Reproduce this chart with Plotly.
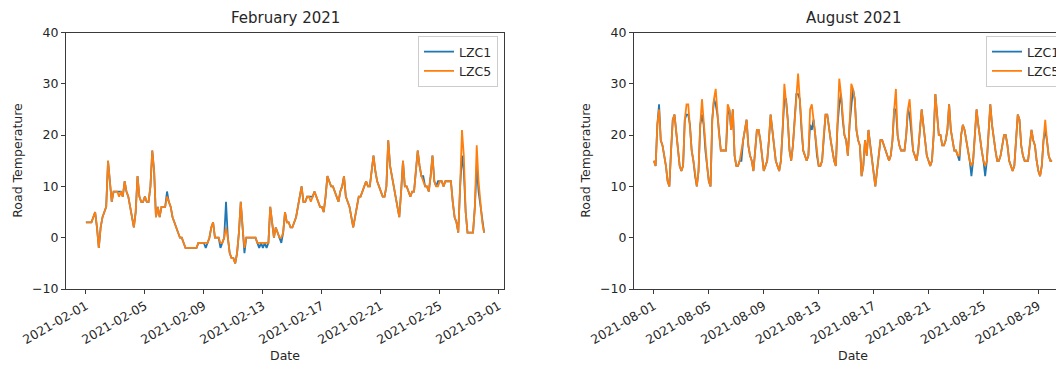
import pandas as pd
import plotly.graph_objects as go

# ---------------- data (3-hourly readings, degrees C) ----------------
feb_start = "2021-02-01"
aug_start = "2021-08-01"
step = "3h"

feb_lzc5 = [
    3, 3, 3, 3, 4, 5, 2, -2,
    2, 4, 5, 6, 15, 10, 7, 9,
    9, 9, 8, 9, 8, 11, 9, 8,
    6, 4, 2, 5, 12, 8, 7, 7,
    8, 7, 7, 10, 17, 13, 4, 6,
    4, 6, 6, 6, 8, 7, 6, 4,
    3, 2, 1, 0, 0, -1, -2, -2,
    -2, -2, -2, -2, -2, -1, -1, -1,
    -1, -1, -1, 0, 2, 3, 0, 0,
    0, -1, -1, 0, 2, 0, -3, -4,
    -4, -5, -3, 1, 7, 2, -2, 0,
    0, 0, 0, 0, 0, -1, -1, -1,
    -1, -1, -1, -1, 6, 3, 0, 2,
    1, 0, 0, 1, 5, 3, 3, 2,
    2, 3, 4, 6, 8, 10, 7, 7,
    8, 8, 7, 8, 9, 8, 7, 6,
    6, 5, 8, 12, 11, 10, 10, 9,
    8, 7, 9, 10, 12, 8, 7, 6,
    4, 2, 4, 6, 8, 8, 9, 10,
    11, 10, 10, 13, 16, 13, 11, 10,
    9, 8, 8, 10, 19, 14, 12, 10,
    8, 6, 4, 9, 15, 10, 10, 9,
    8, 9, 9, 13, 17, 14, 12, 11,
    10, 10, 9, 12, 16, 11, 10, 10,
    11, 11, 10, 11, 11, 11, 11, 7,
    4, 3, 1, 10, 21, 16, 5, 1,
    1, 1, 1, 6, 18, 11, 6, 3,
    1,
]

feb_lzc1 = [
    3, 3, 3, 3, 4, 5, 2, -2,
    2, 4, 5, 6, 15, 10, 7, 9,
    9, 9, 9, 9, 8, 11, 9, 8,
    6, 4, 2, 5, 12, 8, 7, 7,
    8, 7, 7, 10, 17, 13, 4, 6,
    4, 6, 6, 6, 9, 7, 6, 4,
    3, 2, 1, 0, 0, -1, -2, -2,
    -2, -2, -2, -2, -2, -1, -1, -1,
    -1, -2, -1, 0, 2, 3, 0, 0,
    0, -2, -1, 0, 7, 0, -3, -4,
    -4, -5, -3, 1, 7, 2, -3, 0,
    0, 0, 0, 0, 0, -1, -2, -1,
    -2, -1, -2, -1, 6, 3, 0, 2,
    1, 0, -1, 1, 5, 3, 3, 2,
    2, 3, 4, 6, 8, 10, 7, 7,
    8, 8, 8, 8, 9, 8, 7, 6,
    6, 5, 8, 12, 11, 10, 10, 9,
    8, 7, 9, 10, 12, 8, 7, 6,
    4, 2, 4, 6, 8, 8, 9, 10,
    11, 10, 10, 13, 16, 13, 11, 10,
    9, 8, 8, 10, 19, 14, 12, 10,
    8, 6, 4, 9, 15, 10, 10, 9,
    8, 9, 9, 13, 17, 14, 12, 12,
    10, 10, 9, 12, 16, 11, 10, 11,
    11, 11, 10, 11, 11, 11, 11, 7,
    4, 3, 1, 10, 16, 13, 5, 1,
    1, 1, 1, 6, 14, 9, 6, 3,
    1,
]

aug_lzc5 = [
    15, 14, 22, 25, 19, 18, 16, 14,
    11, 10, 17, 23, 24, 21, 17, 14,
    13, 14, 23, 26, 26, 22, 17, 15,
    12, 10, 13, 22, 27, 22, 17, 14,
    11, 10, 23, 27, 29, 24, 20, 17,
    17, 17, 17, 26, 25, 21, 25, 16,
    14, 14, 15, 17, 19, 21, 23, 18,
    16, 15, 13, 17, 21, 21, 19, 16,
    13, 14, 15, 19, 24, 21, 18, 15,
    14, 13, 15, 21, 30, 27, 23, 17,
    15, 18, 23, 28, 32, 27, 21, 17,
    16, 15, 16, 25, 26, 23, 20, 16,
    14, 14, 15, 20, 24, 24, 21, 19,
    17, 15, 14, 22, 31, 28, 23, 20,
    19, 16, 22, 30, 29, 27, 21, 19,
    18, 12, 14, 19, 16, 21, 18, 15,
    12, 10, 13, 16, 19, 19, 18, 17,
    16, 15, 16, 19, 25, 29, 20, 18,
    17, 17, 17, 20, 25, 27, 21, 17,
    16, 15, 17, 21, 25, 22, 19, 16,
    15, 14, 15, 20, 28, 23, 20, 20,
    18, 18, 19, 21, 26, 21, 19, 17,
    17, 16, 16, 20, 22, 21, 19, 17,
    15, 14, 15, 20, 25, 22, 19, 17,
    15, 14, 15, 20, 26, 22, 19, 17,
    15, 15, 16, 18, 20, 20, 18, 15,
    14, 13, 14, 20, 24, 23, 18, 16,
    15, 15, 15, 18, 21, 19, 18, 15,
    13, 12, 14, 19, 23, 19, 16, 15,
    15,
]

aug_lzc1 = [
    15, 14, 22, 26, 19, 18, 16, 14,
    11, 10, 17, 23, 24, 21, 17, 14,
    13, 14, 23, 24, 24, 22, 17, 15,
    12, 10, 13, 22, 24, 22, 17, 14,
    11, 10, 23, 27, 26, 24, 20, 17,
    17, 17, 17, 24, 25, 21, 25, 16,
    14, 14, 15, 15, 19, 21, 23, 18,
    16, 15, 13, 17, 21, 21, 19, 16,
    13, 14, 15, 19, 24, 21, 18, 15,
    14, 13, 15, 21, 27, 27, 23, 17,
    15, 18, 23, 28, 28, 27, 21, 17,
    16, 15, 16, 22, 21, 23, 20, 16,
    14, 14, 15, 20, 24, 24, 21, 19,
    17, 15, 14, 22, 26, 28, 23, 20,
    19, 16, 22, 25, 29, 27, 21, 19,
    18, 12, 14, 19, 16, 21, 18, 15,
    12, 10, 13, 16, 19, 19, 18, 17,
    16, 15, 16, 19, 25, 25, 20, 18,
    17, 17, 17, 20, 25, 24, 21, 17,
    16, 15, 17, 21, 25, 22, 19, 16,
    15, 14, 15, 20, 28, 23, 20, 20,
    18, 18, 19, 21, 26, 21, 19, 17,
    17, 16, 15, 20, 22, 21, 19, 17,
    15, 12, 15, 20, 25, 22, 19, 17,
    15, 12, 15, 20, 26, 22, 19, 17,
    15, 15, 16, 18, 20, 20, 18, 15,
    14, 13, 14, 20, 24, 23, 18, 16,
    15, 15, 15, 18, 21, 19, 18, 15,
    13, 12, 14, 19, 21, 19, 16, 15,
    15,
]

series_names = ["LZC1", "LZC5"]
feb_ticks = ["2021-02-01", "2021-02-05", "2021-02-09", "2021-02-13",
             "2021-02-17", "2021-02-21", "2021-02-25", "2021-03-01"]
aug_ticks = ["2021-08-01", "2021-08-05", "2021-08-09", "2021-08-13",
             "2021-08-17", "2021-08-21", "2021-08-25", "2021-08-29"]
y_ticks = [-10, 0, 10, 20, 30, 40]

# ---------------- styling ----------------
# the page body has an 8px default margin; the figure is sized so that
# page coordinates = figure coordinates + OFF
OFF = 8
PW, PH = 1064, 365          # page (window) size
W, H = PW - OFF, PH - OFF   # figure size
BLUE, ORANGE = "#1f77b4", "#ff7f0e"
FONT = "DejaVu Sans"
AX = "#3a3a3a"
TXT = "#262626"

feb_time = pd.date_range(feb_start, periods=len(feb_lzc5), freq=step)
aug_time = pd.date_range(aug_start, periods=len(aug_lzc5), freq=step)


def padded_range(t, visible_frac=1.0):
    span = t[-1] - t[0]
    lo = t[0] - 0.05 * span
    full = 1.1 * span
    return [lo, lo + full * visible_frac]


def px(x):   # page x -> paper fraction
    return (x - OFF) / W


def py(y):   # page y (from top) -> paper fraction (from bottom)
    return (H - (y - OFF)) / H


fig = go.Figure()
for name, vals, col in [(series_names[0], feb_lzc1, BLUE), (series_names[1], feb_lzc5, ORANGE)]:
    fig.add_trace(go.Scatter(x=feb_time, y=vals, mode="lines", name=name,
                             line=dict(color=col, width=1.8),
                             xaxis="x", yaxis="y", legend="legend"))
for name, vals, col in [(series_names[0], aug_lzc1, BLUE), (series_names[1], aug_lzc5, ORANGE)]:
    fig.add_trace(go.Scatter(x=aug_time, y=vals, mode="lines", name=name,
                             line=dict(color=col, width=1.8),
                             xaxis="x2", yaxis="y2", legend="legend2"))

# axes geometry (page pixels)
L1, R1 = 66, 504
L2, R2full = 634, 1072
TOP, BOT = 32.5, 289

ydom = [py(BOT), py(TOP)]
common_x = dict(showline=True, linecolor=AX, linewidth=1, mirror=True,
                ticks="outside", ticklen=4, tickwidth=1, tickcolor=AX,
                showgrid=False, zeroline=False, tickangle=-30,
                tickformat="%Y-%m-%d",
                tickfont=dict(family=FONT, size=12.5, color=TXT))
common_y = dict(showline=True, linecolor=AX, linewidth=1,
                ticks="outside", ticklen=4, tickwidth=1, tickcolor=AX,
                showgrid=False, zeroline=False, range=[-10, 40],
                tickvals=y_ticks, domain=ydom,
                tickfont=dict(family=FONT, size=12.5, color=TXT))

vis_frac = (PW - L2) / (R2full - L2)

legend_style = dict(bgcolor="rgba(255,255,255,0.8)", bordercolor="#cccccc", borderwidth=1,
                    font=dict(family=FONT, size=12.5, color=TXT), itemwidth=30,
                    tracegroupgap=0)

fig.update_layout(
    width=W, height=H,
    margin=dict(l=0, r=0, t=0, b=0, autoexpand=False),
    paper_bgcolor="white", plot_bgcolor="white",
    font=dict(family=FONT, color=TXT),
    xaxis=dict(common_x, domain=[px(L1), px(R1)], anchor="y",
               range=padded_range(feb_time), tickvals=feb_ticks),
    yaxis=dict(common_y, anchor="x", mirror=True),
    xaxis2=dict(common_x, domain=[px(L2), 1.0], anchor="y2",
                range=padded_range(aug_time, vis_frac), tickvals=aug_ticks),
    yaxis2=dict(common_y, anchor="x2", mirror=False),
    legend=dict(legend_style, x=px(498), xanchor="right", y=py(36), yanchor="top"),
    legend2=dict(legend_style, x=px(986), xanchor="left", y=py(36), yanchor="top"),
    showlegend=True,
)

c1 = px((L1 + R1) / 2)
c2 = px((L2 + R2full) / 2)
annots = [
    dict(text="February 2021", x=c1, y=py(18), size=15),
    dict(text="August 2021", x=c2, y=py(18), size=15),
    dict(text="Date", x=c1, y=py(355), size=12.5),
    dict(text="Date", x=c2, y=py(355), size=12.5),
]
for a in annots:
    fig.add_annotation(text=a["text"], x=a["x"], y=a["y"], xref="paper", yref="paper",
                       showarrow=False, xanchor="center", yanchor="middle",
                       font=dict(family=FONT, size=a["size"], color=TXT))
for xp in [18, 586]:
    fig.add_annotation(text="Road Temperature", x=px(xp), y=py((TOP + BOT) / 2),
                       xref="paper", yref="paper", showarrow=False, textangle=-90,
                       xanchor="center", yanchor="middle",
                       font=dict(family=FONT, size=12.5, color=TXT))

fig.write_html("out.html")
